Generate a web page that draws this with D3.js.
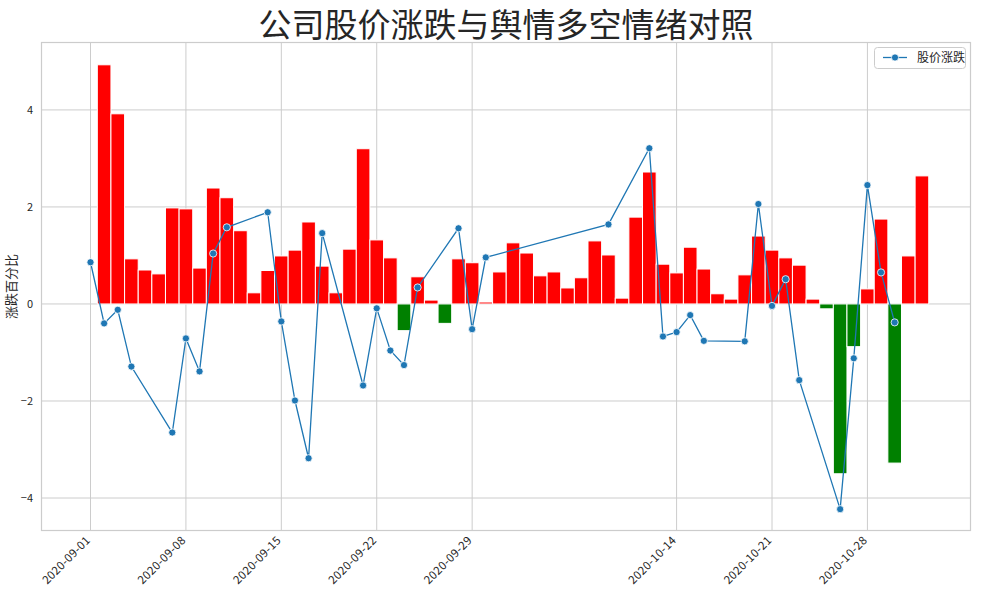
<!DOCTYPE html>
<html><head><meta charset="utf-8">
<script src="https://cdn.jsdelivr.net/npm/d3@7"></script>
<style>body{margin:0;background:#fff}svg{display:block}</style>
</head><body>
<script>
// ---- data ----
const title = "公司股价涨跌与舆情多空情绪对照";
const yLabel = "涨跌百分比";
const legendLabel = "股价涨跌";
// daily sentiment bars, 2020-09-01 .. 2020-11-02
const barStart = "2020-09-01";
const barValues = [
  0, 4.93, 3.92, 0.93, 0.70, 0.62, 1.98, 1.96, 0.74, 2.39,
  2.19, 1.51, 0.23, 0.69, 0.99, 1.11, 1.69, 0.78, 0.23, 1.13,
  3.20, 1.32, 0.95, -0.55, 0.56, 0.08, -0.40, 0.93, 0.85, 0.04,
  0.66, 1.26, 1.05, 0.58, 0.66, 0.33, 0.54, 1.30, 1.01, 0.12,
  1.79, 2.72, 0.82, 0.64, 1.17, 0.72, 0.21, 0.10, 0.60, 1.40,
  1.11, 0.95, 0.80, 0.10, -0.10, -3.50, -0.88, 0.31, 1.75, -3.28,
  0.99, 2.64, 0
];
// stock change on trading days
const priceDates = [
  "2020-09-01","2020-09-02","2020-09-03","2020-09-04","2020-09-07","2020-09-08","2020-09-09","2020-09-10","2020-09-11",
  "2020-09-14","2020-09-15","2020-09-16","2020-09-17","2020-09-18","2020-09-21","2020-09-22","2020-09-23","2020-09-24","2020-09-25",
  "2020-09-28","2020-09-29","2020-09-30","2020-10-09","2020-10-12","2020-10-13","2020-10-14","2020-10-15","2020-10-16",
  "2020-10-19","2020-10-20","2020-10-21","2020-10-22","2020-10-23","2020-10-26","2020-10-27","2020-10-28","2020-10-29","2020-10-30"
];
const priceValues = [
  0.86, -0.40, -0.12, -1.29, -2.65, -0.71, -1.39, 1.04, 1.58,
  1.89, -0.36, -1.99, -3.18, 1.46, -1.68, -0.09, -0.96, -1.26, 0.34,
  1.56, -0.52, 0.96, 1.64, 3.21, -0.67, -0.58, -0.23, -0.76,
  -0.77, 2.06, -0.04, 0.51, -1.57, -4.23, -1.12, 2.45, 0.65, -0.38
];
const xTickDates = ["2020-09-01","2020-09-08","2020-09-15","2020-09-22","2020-09-29","2020-10-14","2020-10-21","2020-10-28"];
const yTicks = [-4, -2, 0, 2, 4];

// ---- layout ----
const W = 985, H = 592;
const L = 41, R = 971, T = 42, B = 531;
const DAY = 86400000;
const parse = s => new Date(s + "T00:00:00Z");
const t0 = parse(barStart);
const addDays = (d, n) => new Date(d.getTime() + n * DAY);

const svg = d3.select("body").append("svg").attr("width", W).attr("height", H);
const font = "'Noto Sans CJK SC', 'DejaVu Sans', sans-serif";

const x = d3.scaleUtc().domain([addDays(t0, -3.632), addDays(t0, 64.60)]).range([L, R]);
const y = d3.scaleLinear().domain([-4.68, 5.40]).range([B, T]);

// grid
const g = svg.append("g");
g.selectAll("line.hg").data(yTicks).join("line")
  .attr("x1", L).attr("x2", R).attr("y1", d => y(d)).attr("y2", d => y(d))
  .attr("stroke", "#cccccc").attr("stroke-width", 1);
g.selectAll("line.vg").data(xTickDates.map(parse)).join("line")
  .attr("x1", d => x(d)).attr("x2", d => x(d)).attr("y1", T).attr("y2", B)
  .attr("stroke", "#cccccc").attr("stroke-width", 1);

// bars
const bars = barValues.map((v, i) => ({d: addDays(t0, i), v}));
svg.append("g").selectAll("rect").data(bars).join("rect")
  .attr("x", d => x(addDays(d.d, -0.5)))
  .attr("width", d => x(addDays(d.d, 0.5)) - x(addDays(d.d, -0.5)))
  .attr("y", d => y(Math.max(0, d.v)))
  .attr("height", d => Math.abs(y(d.v) - y(0)))
  .attr("fill", d => d.v >= 0 ? "#ff0000" : "#008000")
  .attr("stroke", "#ffffff").attr("stroke-width", 1);

// line
const pts = priceDates.map((s, i) => ({d: parse(s), v: priceValues[i]}));
const line = d3.line().x(d => x(d.d)).y(d => y(d.v));
svg.append("path").datum(pts).attr("d", line)
  .attr("fill", "none").attr("stroke", "#1f77b4").attr("stroke-width", 1.3);
svg.append("g").selectAll("circle").data(pts).join("circle")
  .attr("cx", d => x(d.d)).attr("cy", d => y(d.v)).attr("r", 3.6)
  .attr("fill", "#1f77b4").attr("stroke", "#ffffff").attr("stroke-width", 0.8);

// spines
svg.append("rect").attr("x", L + 0.5).attr("y", T + 0.5).attr("width", R - L - 1).attr("height", B - T - 1)
  .attr("fill", "none").attr("stroke", "#cccccc").attr("stroke-width", 1.2);

// axes labels
const yAxis = d3.axisLeft(y).tickValues(yTicks).tickSize(0).tickPadding(8)
  .tickFormat(d => d < 0 ? "\u2212" + Math.abs(d) : String(d));
const ya = svg.append("g").attr("transform", `translate(${L},0)`).call(yAxis);
ya.select(".domain").remove();
ya.selectAll("text").attr("font-family", font).attr("font-size", 11).attr("fill", "#262626");

const xAxis = d3.axisBottom(x).tickValues(xTickDates.map(parse)).tickSize(0)
  .tickFormat(d3.utcFormat("%Y-%m-%d"));
const xa = svg.append("g").attr("transform", `translate(0,${B})`).call(xAxis);
xa.select(".domain").remove();
xa.selectAll("text").attr("font-family", font).attr("font-size", 11.5).attr("fill", "#262626")
  .attr("letter-spacing", "0.3px")
  .attr("text-anchor", "end").attr("dy", null).attr("y", 0)
  .attr("transform", "translate(0,10) rotate(-45)");

// y label
svg.append("text").attr("transform", `translate(16,${(T + B) / 2}) rotate(-90)`)
  .attr("text-anchor", "middle").attr("font-family", font).attr("font-size", 13)
  .attr("fill", "#262626").text(yLabel);

// title
svg.append("text").attr("x", (L + R) / 2).attr("y", 37).attr("text-anchor", "middle")
  .attr("font-family", font).attr("font-size", 33).attr("fill", "#262626").text(title);

// legend
const lg = svg.append("g");
lg.append("rect").attr("x", 874.5).attr("y", 47.5).attr("width", 91).attr("height", 21).attr("rx", 3)
  .attr("fill", "#fff").attr("stroke", "#cccccc").attr("stroke-width", 1);
lg.append("line").attr("x1", 883).attr("x2", 907).attr("y1", 57.5).attr("y2", 57.5)
  .attr("stroke", "#1f77b4").attr("stroke-width", 1.3);
lg.append("circle").attr("cx", 895).attr("cy", 57.5).attr("r", 3.6)
  .attr("fill", "#1f77b4").attr("stroke", "#fff").attr("stroke-width", 0.8);
lg.append("text").attr("x", 917).attr("y", 62).attr("font-family", font).attr("font-size", 12)
  .attr("fill", "#262626").text(legendLabel);
</script>
</body></html>
